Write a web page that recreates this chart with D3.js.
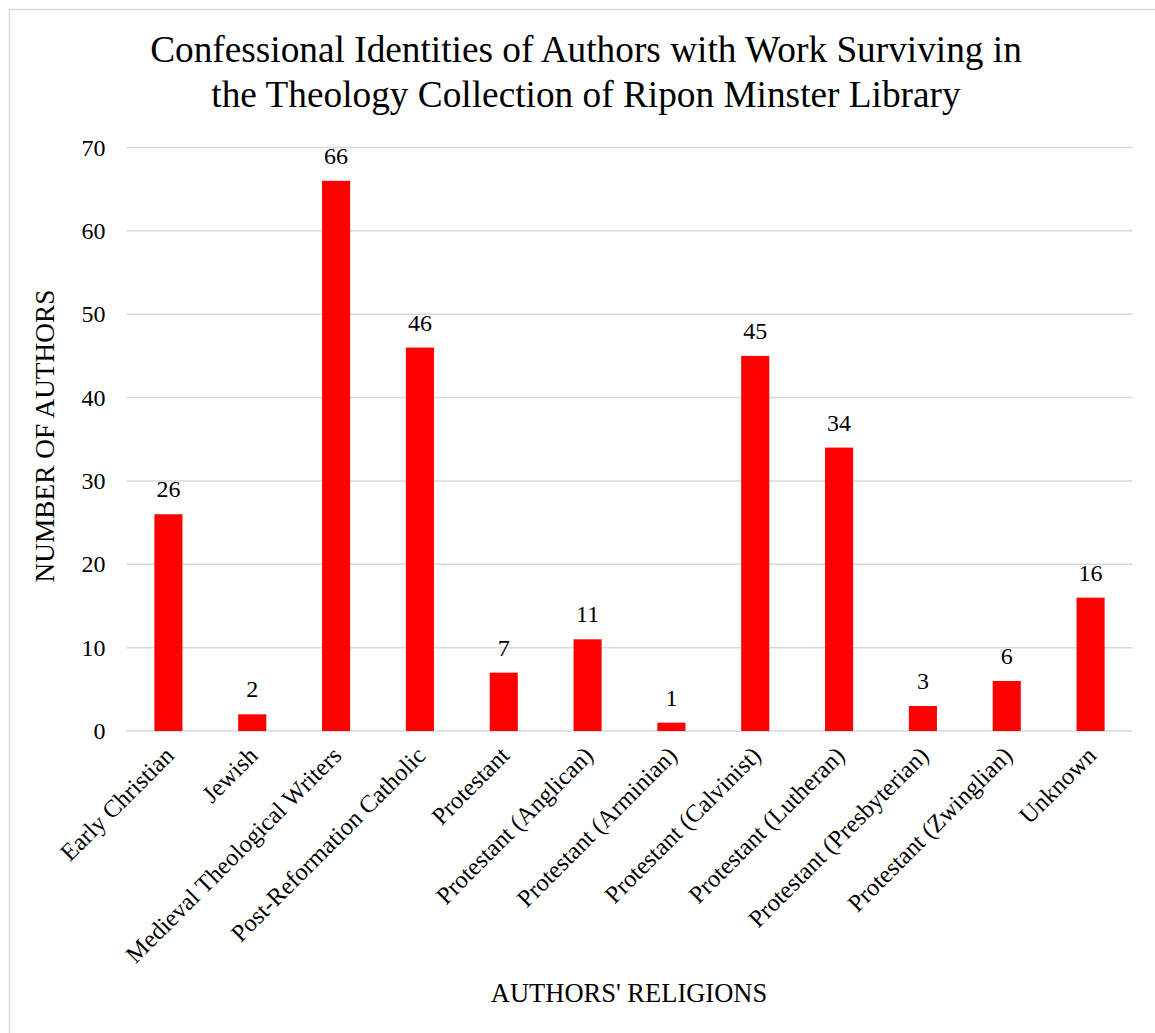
<!DOCTYPE html>
<html>
<head>
<meta charset="utf-8">
<script src="https://cdn.jsdelivr.net/npm/d3@7"></script>
<style>
  html, body { margin: 0; padding: 0; background: #fff; }
  svg text { font-family: "Liberation Serif", "Times New Roman", serif; fill: #000; }
</style>
</head>
<body>
<svg id="chart" width="1155" height="1033"></svg>
<script>
// Authors' religions and the number of authors in each group
const categories = [
  "Early Christian", "Jewish", "Medieval Theological Writers", "Post-Reformation Catholic",
  "Protestant", "Protestant (Anglican)", "Protestant (Arminian)", "Protestant (Calvinist)",
  "Protestant (Lutheran)", "Protestant (Presbyterian)", "Protestant (Zwinglian)", "Unknown"
];
const authorCounts = [26, 2, 66, 46, 7, 11, 1, 45, 34, 3, 6, 16];
const yTicks = [0, 10, 20, 30, 40, 50, 60, 70];
const titleLines = [
  "Confessional Identities of Authors with Work Surviving in",
  "the Theology Collection of Ripon Minster Library"
];

const svg = d3.select("#chart");
const W = 1155, H = 1033;
const plot = { left: 126.5, right: 1132.5, top: 147.5, bottom: 731 };

// outer chart frame
svg.append("rect")
  .attr("x", 9.5).attr("y", 9.5)
  .attr("width", W + 20).attr("height", H + 20)
  .attr("fill", "#fff").attr("stroke", "#d9d9d9").attr("stroke-width", 1.5);

const x = d3.scaleBand().domain(categories)
  .range([plot.left, plot.right]).paddingInner(0.665).paddingOuter(0.3325);
const y = d3.scaleLinear().domain([0, 70]).range([plot.bottom, plot.top]);

// horizontal gridlines
svg.append("g").selectAll("line").data(yTicks).join("line")
  .attr("x1", plot.left).attr("x2", plot.right)
  .attr("y1", d => y(d)).attr("y2", d => y(d))
  .attr("stroke", "#d9d9d9").attr("stroke-width", 1.5);

// y axis tick labels
const yAxis = d3.axisLeft(y).tickValues(yTicks).tickSize(0).tickPadding(0);
const gy = svg.append("g").attr("transform", `translate(${plot.left - 21},0)`).call(yAxis);
gy.select(".domain").remove();
gy.selectAll("text").attr("font-size", 24).attr("font-family", "Liberation Serif, serif").attr("fill", "#000");

// bars
svg.append("g").selectAll("rect").data(authorCounts).join("rect")
  .attr("x", (d, i) => x(categories[i]))
  .attr("width", x.bandwidth())
  .attr("y", d => y(d))
  .attr("height", d => y(0) - y(d))
  .attr("fill", "#ff0000");

// value labels
svg.append("g").selectAll("text").data(authorCounts).join("text")
  .attr("x", (d, i) => x(categories[i]) + x.bandwidth() / 2)
  .attr("y", d => y(d) - 17)
  .attr("text-anchor", "middle")
  .attr("font-size", 24)
  .text(d => d);

// rotated category labels
svg.append("g").selectAll("text").data(categories).join("text")
  .attr("transform", d => `translate(${x(d) + x.bandwidth() / 2 + 7},${plot.bottom + 26}) rotate(-45)`)
  .attr("text-anchor", "end")
  .attr("font-size", 24.5)
  .text(d => d);

// title
svg.append("g").selectAll("text").data(titleLines).join("text")
  .attr("x", 586).attr("y", (d, i) => 62 + i * 45)
  .attr("text-anchor", "middle")
  .attr("font-size", 37.3)
  .text(d => d);

// axis titles
svg.append("text")
  .attr("x", 629).attr("y", 1002)
  .attr("text-anchor", "middle").attr("font-size", 26.5)
  .text("AUTHORS' RELIGIONS");

svg.append("text")
  .attr("transform", `translate(54,436) rotate(-90)`)
  .attr("text-anchor", "middle").attr("font-size", 27.3)
  .text("NUMBER OF AUTHORS");
</script>
</body>
</html>
